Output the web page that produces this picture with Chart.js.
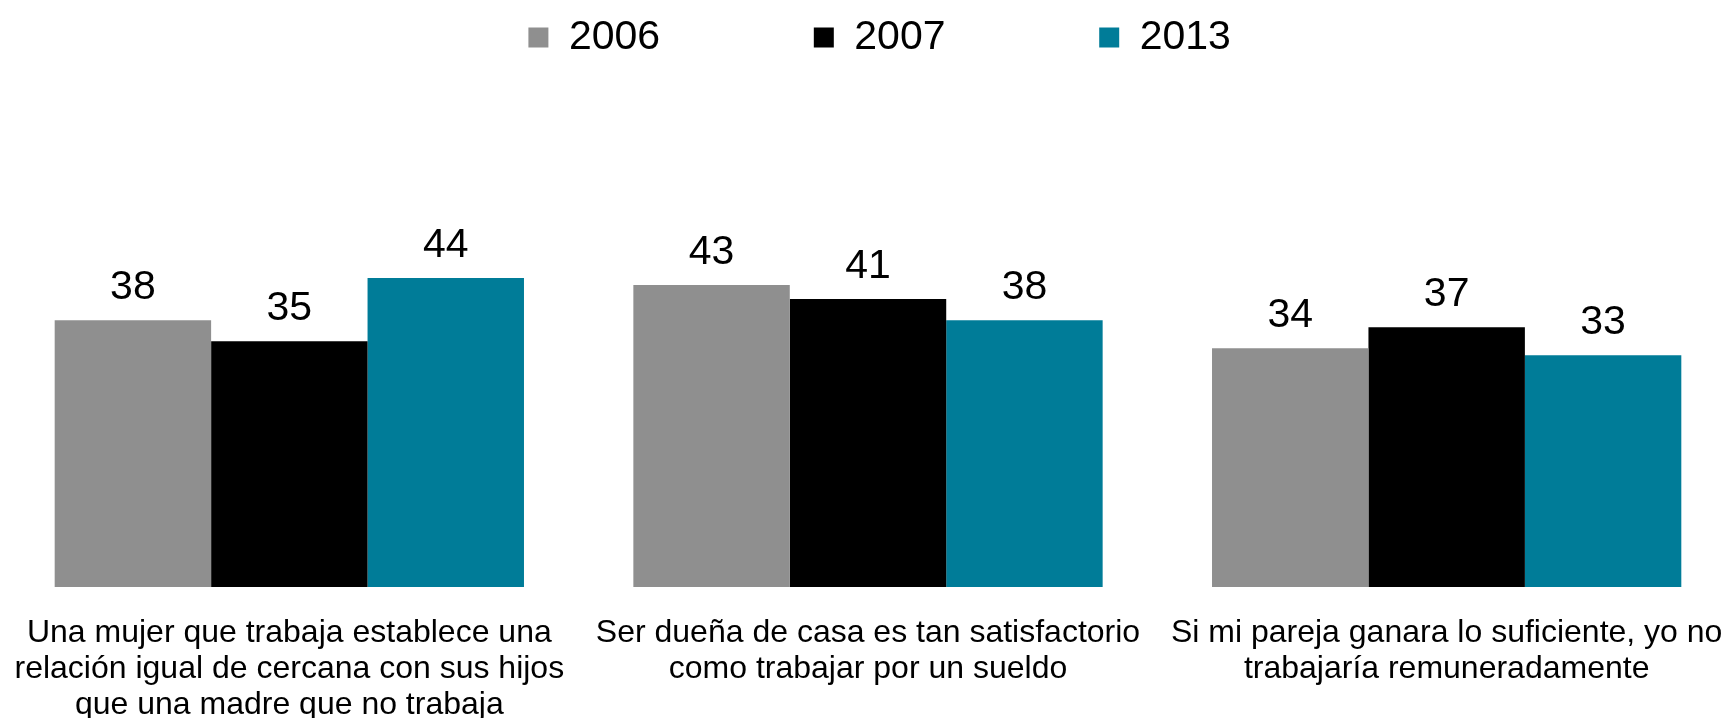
<!DOCTYPE html>
<html>
<head>
<meta charset="utf-8">
<script src="https://cdn.jsdelivr.net/npm/chart.js@4/dist/chart.umd.min.js"></script>
<style>
  html, body { margin: 0; padding: 0; background: #fff; overflow: hidden; }
  #wrap { width: 1736px; height: 718px; position: relative; }
</style>
</head>
<body>
<div id="wrap"><canvas id="chart"></canvas></div>
<script>
// categories (multi-line labels as in the original)
const categories = [
    ['Una mujer que trabaja establece una', 'relación igual de cercana con sus hijos', 'que una madre que no trabaja'],
    ['Ser dueña de casa es tan satisfactorio', 'como trabajar por un sueldo'],
    ['Si mi pareja ganara lo suficiente, yo no', 'trabajaría remuneradamente']
];
const years = ['2006', '2007', '2013'];
const values2006 = [38, 43, 34];
const values2007 = [35, 41, 37];
const values2013 = [44, 38, 33];
const colors = ['#8f8f8f', '#000000', '#007c98'];

const FONT = "'Liberation Sans', Arial, sans-serif";

// value labels on top of each bar
const barLabels = {
    id: 'barLabels',
    afterDatasetsDraw(chart) {
        const ctx = chart.ctx;
        ctx.save();
        ctx.font = '41px ' + FONT;
        ctx.fillStyle = '#000';
        ctx.textAlign = 'center';
        ctx.textBaseline = 'alphabetic';
        chart.data.datasets.forEach((ds, i) => {
            chart.getDatasetMeta(i).data.forEach((bar, j) => {
                ctx.fillText(ds.data[j], bar.x, bar.y - 21);
            });
        });
        ctx.restore();
    }
};

// spacing between legend entries (the original has wide gaps)
const gap = '\u00a0'.repeat(12);

new Chart(document.getElementById('chart'), {
    type: 'bar',
    data: {
        labels: categories,
        datasets: [
            { label: years[0], data: values2006, backgroundColor: colors[0], borderWidth: 0 },
            { label: years[1], data: values2007, backgroundColor: colors[1], borderWidth: 0 },
            { label: years[2], data: values2013, backgroundColor: colors[2], borderWidth: 0 }
        ]
    },
    options: {
        responsive: true,
        maintainAspectRatio: false,
        animation: false,
        layout: { padding: 0 },
        plugins: {
            tooltip: { enabled: false },
            legend: {
                position: 'top',
                onClick: null,
                labels: {
                    font: { family: FONT, size: 41 },
                    color: '#000',
                    boxWidth: 20,
                    boxHeight: 20,
                    padding: 17,
                    generateLabels(chart) {
                        const items = Chart.defaults.plugins.legend.labels.generateLabels(chart);
                        items.forEach((it, i) => {
                            it.lineWidth = 0;
                            it.text = it.text + (i < items.length - 1 ? gap : '\u00a0\u00a0\u00a0');
                        });
                        // empty leading entry nudges the row a little to the right
                        items.unshift({
                            text: '', fillStyle: 'rgba(0,0,0,0)', strokeStyle: 'rgba(0,0,0,0)',
                            lineWidth: 0, hidden: false, datasetIndex: -1
                        });
                        return items;
                    }
                }
            }
        },
        scales: {
            x: {
                grid: { display: false, drawTicks: false },
                border: { display: false },
                ticks: {
                    color: '#000',
                    font: { family: FONT, size: 32, lineHeight: 1.13 },
                    padding: 28,
                    maxRotation: 0,
                    autoSkip: false
                },
                // long labels may run to the canvas edge, keep the full plot width
                afterFit(scale) {
                    scale.height = 131;
                    scale.paddingLeft = 0;
                    scale.paddingRight = 0;
                }
            },
            y: {
                display: false,
                min: 0,
                max: 73.9
            }
        },
        datasets: { bar: { categoryPercentage: 0.811, barPercentage: 1 } }
    },
    plugins: [barLabels]
});
</script>
</body>
</html>
